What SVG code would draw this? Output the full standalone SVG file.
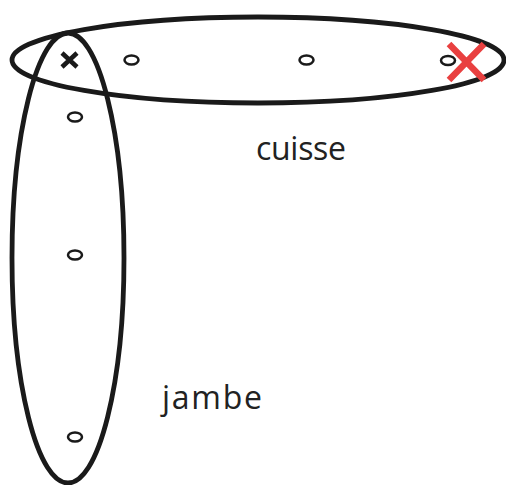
<svg xmlns="http://www.w3.org/2000/svg" width="506" height="485" viewBox="0 0 506 485">
<style>
.limb{fill:none;stroke:#1a1a1a;stroke-width:4.8}
.pt{fill:none;stroke:#1a1a1a;stroke-width:2.5}
.lbl{font-family:"Open Sans","Liberation Sans",sans-serif;font-size:32px;fill:#222}
</style>
<rect width="506" height="485" fill="#fff"/>
<g id="cuisse">
<ellipse class="limb" cx="258" cy="60" rx="246" ry="43"/>
<ellipse class="pt" cx="131.5" cy="60" rx="7" ry="4.5"/>
<ellipse class="pt" cx="306.5" cy="60" rx="7" ry="4.5"/>
<ellipse class="pt" cx="448" cy="60.5" rx="7" ry="4.5"/>
<text class="lbl" x="256" y="160" textLength="90" lengthAdjust="spacing">cuisse</text>
</g>
<g id="jambe">
<ellipse class="limb" cx="68" cy="258" rx="56" ry="225"/>
<ellipse class="pt" cx="75" cy="117" rx="7" ry="4.5"/>
<ellipse class="pt" cx="75" cy="255" rx="7" ry="4.5"/>
<ellipse class="pt" cx="75" cy="437" rx="7" ry="4.5"/>
<text class="lbl" x="162" y="409" textLength="100" lengthAdjust="spacing">jambe</text>
</g>
<g id="markers">
<path d="M62 53 L77 67 M77 53 L62 67" stroke="#1a1a1a" stroke-width="4.5" fill="none"/>
<path d="M449 44 L484 80 M484 44 L449 80" stroke="#e94040" stroke-width="6.5" fill="none"/>
</g>
</svg>
